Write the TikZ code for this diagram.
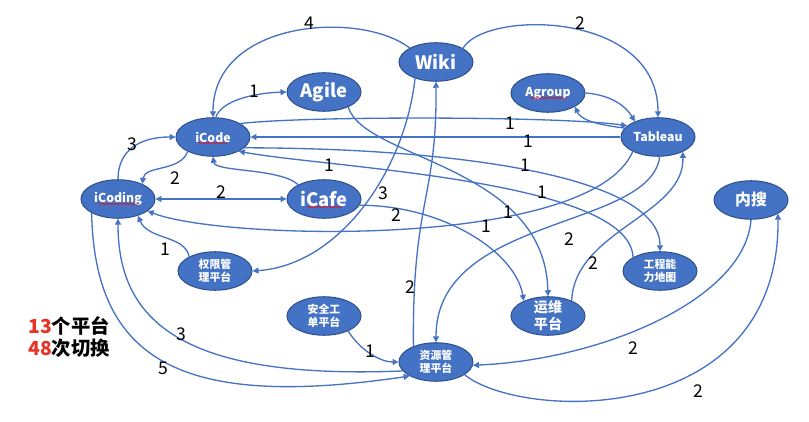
\documentclass[tikz,border=0pt]{standalone}
\usepackage{fontspec}
\setmainfont{Noto Sans CJK SC}
\usepackage{tikz}
\usetikzlibrary{arrows.meta,shapes.geometric,decorations.pathmorphing}
\definecolor{platblue}{RGB}{68,114,196}
\definecolor{platrim}{RGB}{47,82,143}
\definecolor{numred}{RGB}{232,50,35}

\begin{document}
\begin{tikzpicture}[x=0.02cm, y=-0.02cm, >={Triangle[length=3.4pt,width=3.4pt]},
	plat/.style={ellipse, fill=platblue, draw=platrim, line width=0.6pt, text=white, minimum width=1.48cm, minimum height=0.77cm, inner sep=0pt, align=center, font=\bfseries\fontsize{7}{8}\selectfont},
	cn/.style={font=\bfseries\fontsize{6.2}{7.4}\selectfont},
	big/.style={font=\bfseries\fontsize{10.5}{12}\selectfont},
	conn/.style={platblue, line width=0.75pt, ->},
	num/.style={font=\fontsize{10}{12}\selectfont, inner sep=0pt},
	squig/.style={red, line width=0.35pt, decorate, decoration={snake, amplitude=0.3pt, segment length=2pt}}]
	\useasboundingbox (0,0) rectangle (809,422);
	\fill[white] (0,0) rectangle (809,422);

	\node[plat,big] (wiki) at (436,62) {Wiki};
	\node[plat,big] (agile) at (324,92) {Agile};
	\node[plat] (agroup) at (548,93) {Agroup};
	\node[plat] (tableau) at (658,137) {Tableau};
	\node[plat] (icode) at (213,137) {iCode};
	\node[plat] (icoding) at (118,199) {iCoding};
	\node[plat,big] (icafe) at (324,199) {iCafe};
	\node[plat,font=\bfseries\fontsize{9}{10}\selectfont] (neisou) at (751,200) {内搜};
	\node[plat,cn] (quanxian) at (215,271) {权限管\\理平台};
	\node[plat,cn] (gongcheng) at (660,271) {工程能\\力地图};
	\node[plat,cn] (anquan) at (324,316) {安全工\\单平台};
	\node[plat,inner ysep=-1.5pt,font=\bfseries\fontsize{8}{9.6}\selectfont] (yunwei) at (548,316) {运维\\平台};
	\node[plat,cn] (ziyuan) at (436,362) {资源管\\理平台};

	\draw[squig] ([shift={(-15,6)}]icode.center) -- ++(29,0);
	\draw[squig] ([shift={(-20,5)}]icoding.center) -- ++(41,0);
	\draw[squig] ([shift={(-17,8)}]icafe.center) -- ++(35,0);
	\draw[squig] ([shift={(-18,5)}]agroup.center) -- ++(37,0);

	\draw[conn] (wiki.152) .. controls (360,10) and (213,20) .. (icode.north);
	\draw[conn] (wiki.27) .. controls (485,10) and (658,10) .. (tableau.north);
	\draw[conn] (icode.82) .. controls (222,100) and (255,93) .. (agile.west);
	\draw[conn] (icoding.north) .. controls (118,150) and (140,137) .. (icode.west);
	\draw[conn] (icode.210) .. controls (180,172) and (145,165) .. (icoding.32);
	\draw[conn,<->] (icoding.east) -- (icafe.west);
	\draw[conn] (icafe.151) .. controls (280,168) and (215,172) .. (icode.south);
	\draw[conn] (icode.26) .. controls (300,116) and (560,116) .. (tableau.160);
	\draw[conn] (tableau.west) -- (icode.east);
	\draw[conn] (icode.341) .. controls (450,148) and (660,175) .. (gongcheng.north);
	\draw[conn] (gongcheng.153) .. controls (630,180) and (330,168) .. (icode.331);
	\draw[conn] (agile.328) .. controls (365,160) and (545,165) .. (yunwei.north);
	\draw[conn] (tableau.210) .. controls (590,250) and (220,240) .. (icoding.338);
	\draw[conn] (wiki.218) .. controls (405,170) and (340,265) .. (quanxian.east);
	\draw[conn] (ziyuan.145) .. controls (412,200) and (437,200) .. (wiki.south);
	\draw[conn] (icafe.350) .. controls (440,205) and (515,250) .. (yunwei.148);
	\draw[conn] (tableau.275) .. controls (650,230) and (436,215) .. (ziyuan.north);
	\draw[conn] (yunwei.33) .. controls (575,230) and (685,215) .. (tableau.329);
	\draw[conn] (neisou.south) .. controls (745,300) and (600,360) .. (ziyuan.355);
	\draw[conn] (ziyuan.336) .. controls (520,420) and (780,430) .. (neisou.333);
	\draw[conn] (icoding.208) .. controls (95,360) and (180,410) .. (ziyuan.208);
	\draw[conn] (ziyuan.195) .. controls (180,380) and (118,320) .. (icoding.south);
	\draw[conn] (anquan.328) .. controls (360,350) and (380,362) .. (ziyuan.west);
	\draw[conn] (quanxian.151) .. controls (185,235) and (148,240) .. (icoding.320);
	\draw[conn] (agroup.east) .. controls (610,95) and (625,105) .. (tableau.146);
	\draw[conn] (tableau.165) .. controls (590,124) and (580,118) .. (agroup.333);

	\node[num] (n-wc) at (309,23) {4};
	\node[num] (n-wt) at (580,23) {2};
	\node[num] (n-ca) at (254,91) {1};
	\node[num] (n-gc) at (132,144) {3};
	\node[num] (n-cg) at (175,178) {2};
	\node[num] (n-gf) at (221,192) {2};
	\node[num] (n-fc) at (329,165) {1};
	\node[num] (n-wq) at (383,193) {3};
	\node[num] (n-fy) at (396,215) {2};
	\node[num] (n-ct) at (510,123) {1};
	\node[num] (n-tc) at (528,141) {1};
	\node[num] (n-cm) at (525,165) {1};
	\node[num] (n-mc) at (542,192) {1};
	\node[num] (n-ay) at (508,212) {1};
	\node[num] (n-tg) at (486,226) {1};
	\node[num] (n-tz) at (569,239) {2};
	\node[num] (n-yt) at (593,263) {2};
	\node[num] (n-qg) at (165,249) {1};
	\node[num] (n-zw) at (410,287) {2};
	\node[num] (n-zg) at (181,334) {3};
	\node[num] (n-gz) at (163,368) {5};
	\node[num] (n-az) at (370,351) {1};
	\node[num] (n-nz) at (633,348) {2};
	\node[num] (n-zn) at (698,391) {2};

	\node[anchor=west, align=left, inner sep=0pt, font=\bfseries\fontsize{11}{12.5}\selectfont] (summary) at (28,337) {{\color{numred}13}个平台\\{\color{numred}48}次切换};
\end{tikzpicture}
\end{document}
